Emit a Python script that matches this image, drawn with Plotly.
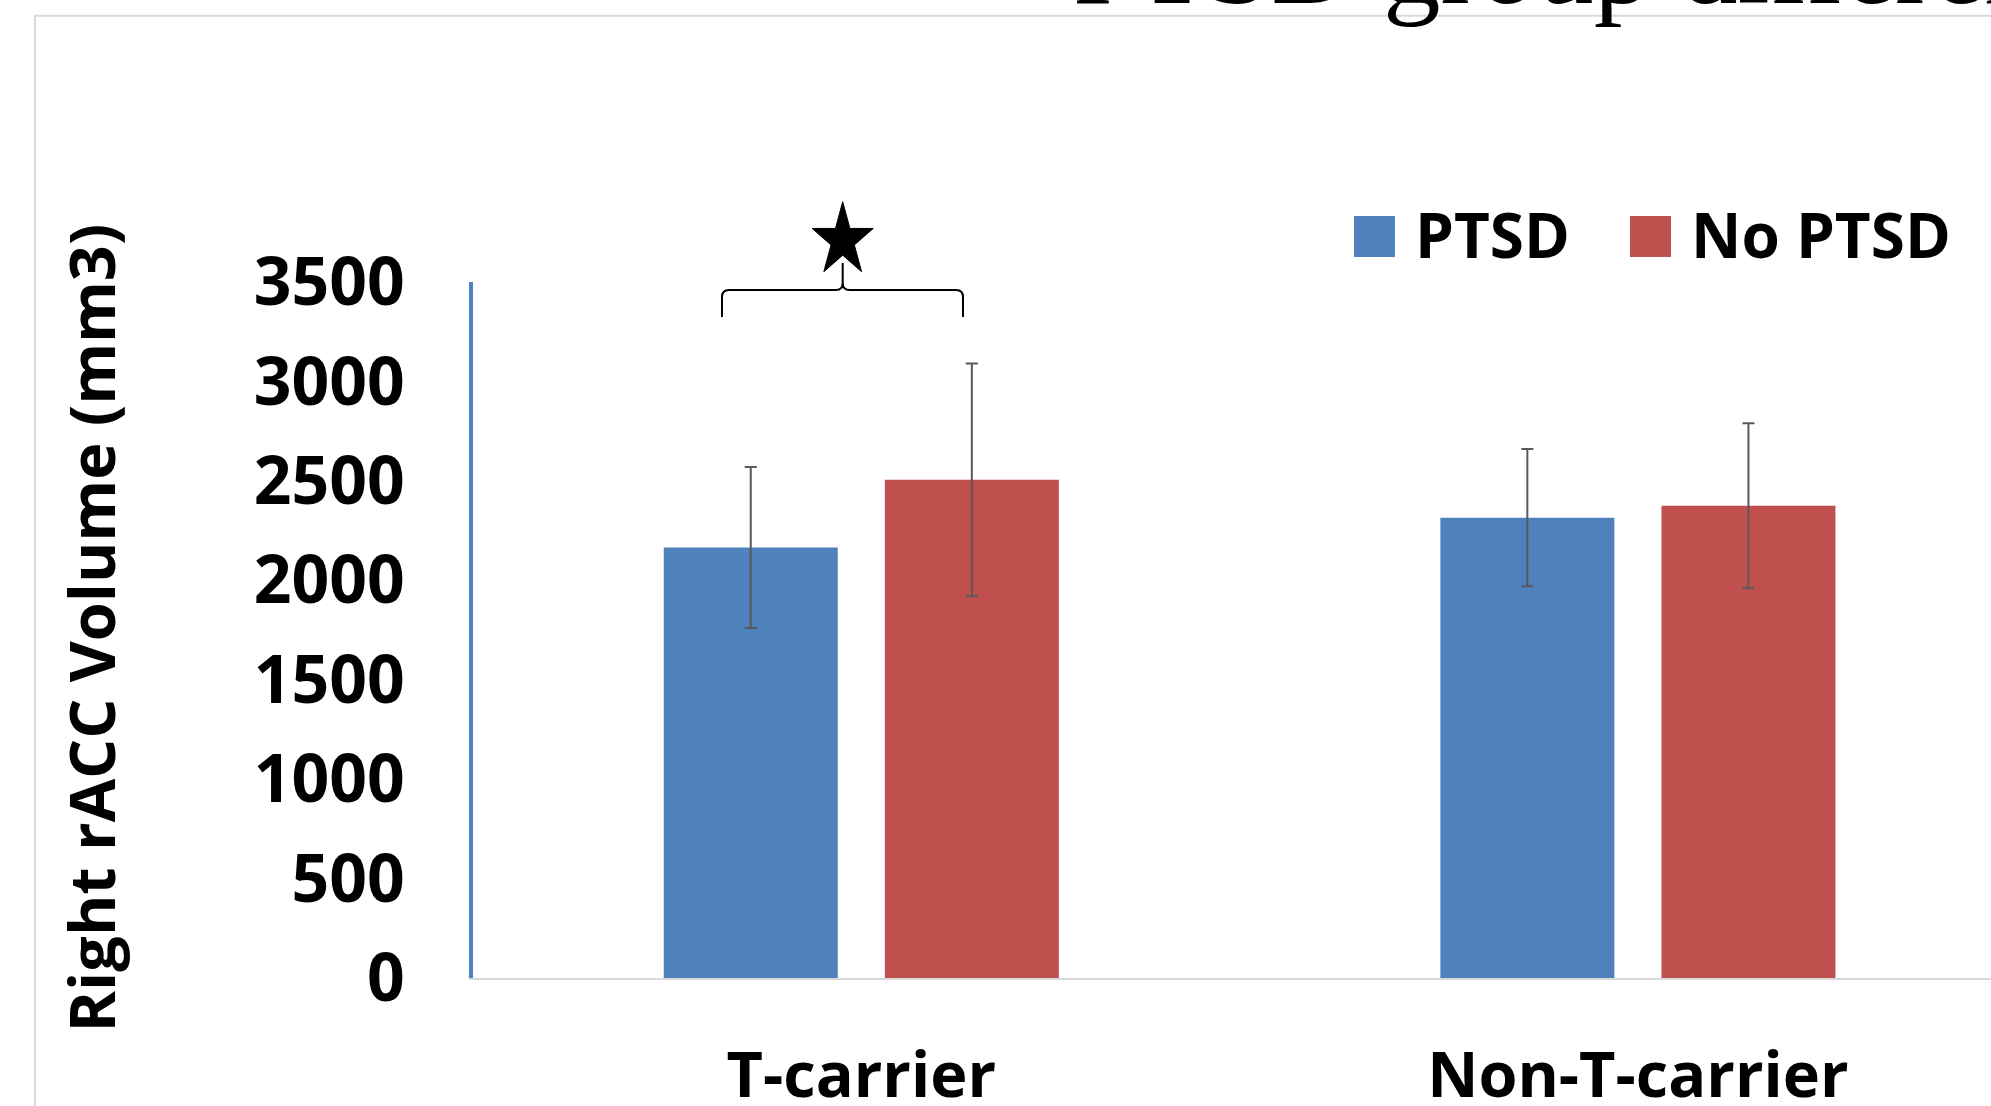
import math
import plotly.graph_objects as go

# ---- data -------------------------------------------------------------
groups = ["T-carrier", "Non-T-carrier"]
series_names = ["PTSD", "No PTSD"]
ptsd_mean = [2165, 2315]
ptsd_err = [405, 345]
noptsd_mean = [2505, 2375]
noptsd_err = [585, 415]
y_ticks = [0, 500, 1000, 1500, 2000, 2500, 3000, 3500]
y_title = "Right rACC Volume (mm3)"
slide_title = "PTSD group differences"

# ---- styling ----------------------------------------------------------
BLUE = "#4F81BD"
RED = "#C0504D"
ERR = "#595959"
FRAME = "#D9D9D9"
SANS = "Open Sans"

W, H = 1991, 1106
ML, MR, MT, MB = 473, 0, 282, 128
PW = W - ML - MR
PH = H - MT - MB
CAT_PX = 776.6  # pixel width of one category slot


def fx(xp):
    """pixel x -> paper x"""
    return (xp - ML) / PW


def fy(yp):
    """pixel y -> paper y"""
    return (H - MB - yp) / PH


fig = go.Figure()
fig.add_trace(go.Bar(
    x=groups, y=ptsd_mean, name=series_names[0], marker_color=BLUE,
    marker_line_width=0,
    error_y=dict(type="data", array=ptsd_err, color=ERR, thickness=2, width=6),
))
fig.add_trace(go.Bar(
    x=groups, y=noptsd_mean, name=series_names[1], marker_color=RED,
    marker_line_width=0,
    error_y=dict(type="data", array=noptsd_err, color=ERR, thickness=2, width=6),
))

fig.update_layout(
    width=W, height=H,
    margin=dict(l=ML, r=MR, t=MT, b=MB, pad=0),
    paper_bgcolor="white", plot_bgcolor="white",
    barmode="group", bargap=0.4306, bargroupgap=0.213,
    showlegend=False,
    xaxis=dict(
        type="category", range=[-0.5, -0.5 + PW / CAT_PX],
        showline=True, linecolor=FRAME, linewidth=2,
        showgrid=False, zeroline=False, ticks="",
        tickfont=dict(family=SANS, size=63, color="black", weight=700),
        ticklabelstandoff=41, automargin=False,
    ),
    yaxis=dict(
        range=[0, 3500], tickvals=y_ticks, tickformat="d",
        showline=True, linecolor=BLUE, linewidth=4,
        showgrid=False, zeroline=False, ticks="",
        tickfont=dict(family=SANS, size=66, color="black", weight=700),
        ticklabelstandoff=51, automargin=False,
    ),
)

shapes = []
# slide frame (left and top edges)
shapes.append(dict(
    type="path", xref="paper", yref="paper", layer="below",
    path=f"M {fx(35)},{fy(1106)} L {fx(35)},{fy(15.7)} L {fx(1991)},{fy(15.7)}",
    line=dict(color=FRAME, width=2),
))

# legend swatches
for x0, col in [(1354, BLUE), (1630, RED)]:
    shapes.append(dict(
        type="rect", xref="paper", yref="paper",
        x0=fx(x0), x1=fx(x0 + 41), y0=fy(257), y1=fy(216),
        fillcolor=col, line=dict(width=0),
    ))

# curly brace over the T-carrier pair
bx0, bx1, bxm = 722, 963, 842.7
by_end, by_bar, by_tip = 317, 290, 263
brace = [
    f"M {fx(bx0)},{fy(by_end)}",
    f"L {fx(bx0)},{fy(by_bar + 7)}",
    f"Q {fx(bx0)},{fy(by_bar)} {fx(bx0 + 7)},{fy(by_bar)}",
    f"L {fx(bxm - 7)},{fy(by_bar)}",
    f"Q {fx(bxm)},{fy(by_bar)} {fx(bxm)},{fy(by_bar - 7)}",
    f"L {fx(bxm)},{fy(by_tip)}",
    f"M {fx(bxm)},{fy(by_bar - 7)}",
    f"Q {fx(bxm)},{fy(by_bar)} {fx(bxm + 7)},{fy(by_bar)}",
    f"L {fx(bx1 - 7)},{fy(by_bar)}",
    f"Q {fx(bx1)},{fy(by_bar)} {fx(bx1)},{fy(by_bar + 7)}",
    f"L {fx(bx1)},{fy(by_end)}",
]
shapes.append(dict(
    type="path", xref="paper", yref="paper", path=" ".join(brace),
    line=dict(color="black", width=2),
))

# significance star
sx, sy, rx, ry = 842.7, 240.4, 32.1, 38.7
pts = []
for k in range(10):
    ang = math.pi / 2 + k * math.pi / 5
    r = 1.0 if k % 2 == 0 else 0.382
    pts.append((sx + rx * r * math.cos(ang), sy - ry * r * math.sin(ang)))
star = "M " + " L ".join(f"{fx(a)},{fy(b)}" for a, b in pts) + " Z"
shapes.append(dict(
    type="path", xref="paper", yref="paper", path=star,
    fillcolor="black", line=dict(color="black", width=1),
))
fig.update_layout(shapes=shapes)

annotations = [
    dict(text=series_names[0], x=fx(1413), y=fy(234), xanchor="left", yanchor="middle"),
    dict(text=series_names[1], x=fx(1689), y=fy(234), xanchor="left", yanchor="middle"),
]
for a in annotations:
    a.update(xref="paper", yref="paper", showarrow=False,
             font=dict(family=SANS, size=62, color="black", weight=700))

annotations.append(dict(
    text=y_title, textangle=-90, xref="paper", yref="paper",
    x=fx(90), y=fy(628.5), xanchor="center", yanchor="middle", showarrow=False,
    font=dict(family=SANS, size=63, color="black", weight=700),
))
annotations.append(dict(
    text=slide_title, xref="paper", yref="paper",
    x=fx(1071), y=fy(30), xanchor="left", yanchor="bottom", showarrow=False,
    font=dict(family="Liberation Serif", size=115, color="black"),
))
fig.update_layout(annotations=annotations)

fig.write_html("out.html", config={"displayModeBar": False})
